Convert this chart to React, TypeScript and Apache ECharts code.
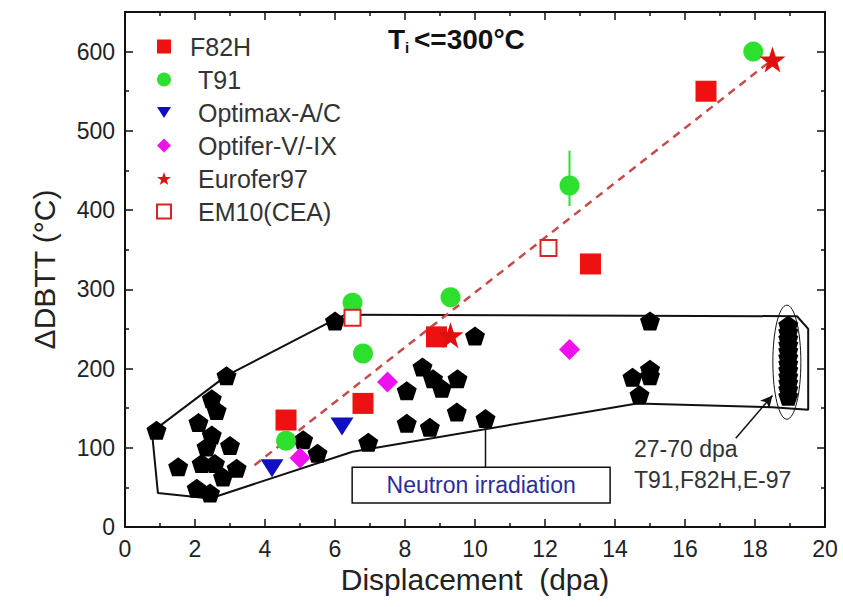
import React, { useEffect, useRef } from "react";
import * as echarts from "echarts";

// ---- data (dpa, ΔDBTT °C) ----
const f82h = [[4.6, 135], [6.8, 156], [8.9, 240], [13.3, 332], [16.6, 550]];
const t91 = [[4.6, 109], [6.5, 283], [6.8, 219], [9.3, 290], [12.7, 431], [17.95, 600]];
const t91ErrorBar = [[12.7, 405], [12.7, 475]];
const optimax = [[4.2, 74], [6.2, 127]];
const optifer = [[5.0, 87], [7.5, 183], [12.7, 224]];
const eurofer97 = [[9.3, 242], [18.5, 590]];
const em10 = [[6.5, 264], [12.1, 352]];
const trendLine = [[3.7, 78], [18.5, 590]];
const neutronLow = [
  [0.9, 122], [1.52, 76], [2.9, 191], [2.48, 162], [2.62, 147], [2.1, 132], [2.48, 116],
  [3.0, 103], [2.33, 101], [2.19, 80], [2.57, 80], [3.19, 74], [2.8, 63], [2.05, 49], [2.43, 43],
  [5.09, 110], [5.5, 93], [6.0, 260], [6.95, 107], [8.05, 172], [8.5, 202], [8.8, 187],
  [9.05, 175], [9.5, 187], [10.0, 241], [9.48, 145], [8.05, 131], [8.71, 126], [10.3, 137],
  [15.0, 260], [15.0, 199], [14.5, 189], [14.7, 167], [15.0, 191],
];
const neutronHighDose = [
  [18.95, 165], [18.95, 174], [18.95, 182], [18.95, 190], [18.95, 198], [18.95, 206],
  [18.95, 214], [18.95, 222], [18.95, 230], [18.95, 238], [18.95, 246], [18.95, 255],
];
const envelope = [
  [0.77, 120], [2.9, 191], [6.0, 262], [6.3, 268], [19.2, 266], [19.52, 250], [19.52, 148],
  [18.5, 151], [14.63, 156], [6.5, 95], [2.43, 36], [0.94, 43], [0.77, 120],
];
const highDoseOutline = [[18.91, 208, 0.8, 144]];
const neutronConnector = [[10.3, 137], [10.3, 75.5]];
const neutronBox = [[6.49, 75.5], [13.86, 30.2]];
const doseArrow = [[17.45, 112], [18.5, 166]];
const legendNames = ["F82H", "T91", "Optimax-A/C", "Optifer-V/-IX", "Eurofer97", "EM10(CEA)"];

const FONT = "'Liberation Sans', Arial, Helvetica, sans-serif";
const PENTAGON = "path://M50,0 L97.6,34.5 L79.4,90.5 L20.6,90.5 L2.4,34.5 Z";
const STAR = "path://M50,0 L61.8,35.1 L98.1,35.1 L68.8,56.8 L79.4,91 L50,70 L20.6,91 L31.2,56.8 L1.9,35.1 L38.2,35.1 Z";
const TRI_DOWN = "path://M0,0 L100,0 L50,80 Z";

export default function App() {
  const ref = useRef<HTMLDivElement>(null);
  useEffect(() => {
    if (!ref.current) return;
    const chart = echarts.init(ref.current, null, { renderer: "svg" });
    const axisCommon = {
      axisLine: { show: true, onZero: false, lineStyle: { color: "#111", width: 2 } },
      axisTick: { show: true, inside: true, length: 8, lineStyle: { color: "#111", width: 1.5 } },
      minorTick: { show: true, splitNumber: 2, length: 4, lineStyle: { color: "#111", width: 1.5 } },
      splitLine: { show: false },
    };
    const option: any = {
      animation: false,
      backgroundColor: "#fff",
      textStyle: { fontFamily: FONT },
      grid: { left: 125, right: 18, top: 12, bottom: 80 },
      legend: {
        data: legendNames,
        orient: "vertical",
        left: 156,
        top: 34,
        padding: 0,
        itemGap: 8,
        itemWidth: 14,
        itemHeight: 14,
        selectedMode: false,
        formatter: (n: string) => (n === "F82H" ? "{a|" + n + "}" : "{b|" + n + "}"),
        textStyle: {
          fontSize: 25,
          lineHeight: 25,
          color: "#333",
          fontFamily: FONT,
          rich: {
            a: { fontSize: 25, color: "#333", padding: [0, 0, 0, 14], fontFamily: FONT },
            b: { fontSize: 25, color: "#333", padding: [0, 0, 0, 22], fontFamily: FONT },
          },
        },
      },
      xAxis: [
        {
          type: "value", min: 0, max: 20, interval: 2, position: "bottom",
          ...axisCommon,
          axisLabel: { fontSize: 23, color: "#222", margin: 10, fontFamily: FONT },
          name: "Displacement  (dpa)", nameLocation: "middle", nameGap: 35,
          nameTextStyle: { fontSize: 30, color: "#222", fontFamily: FONT },
        },
        {
          type: "value", min: 0, max: 20, interval: 2, position: "top",
          ...axisCommon, axisLabel: { show: false },
        },
      ],
      yAxis: [
        {
          type: "value", min: 0, max: 650, interval: 100, position: "left",
          ...axisCommon,
          axisLabel: {
            fontSize: 23, color: "#222", margin: 10, fontFamily: FONT,
            formatter: (v: number) => (v % 100 === 0 ? String(v) : ""),
          },
          name: "ΔDBTT (°C)", nameLocation: "middle", nameGap: 66, nameRotate: 90,
          nameTextStyle: { fontSize: 30, color: "#222", fontFamily: FONT },
        },
        {
          type: "value", min: 0, max: 650, interval: 100, position: "right",
          ...axisCommon, axisLabel: { show: false },
        },
      ],
      graphic: [
        { type: "text", left: 388, top: 25, style: { text: "T", fontSize: 28, fontWeight: "bold", fill: "#111", fontFamily: FONT } },
        { type: "text", left: 405, top: 40, style: { text: "i", fontSize: 15, fontWeight: "bold", fill: "#111", fontFamily: FONT } },
        { type: "text", left: 414, top: 25, style: { text: "<=300°C", fontSize: 28, fontWeight: "bold", fill: "#111", fontFamily: FONT } },
        { type: "text", left: 634, top: 437, style: { text: "27-70 dpa", fontSize: 23, fill: "#333", fontFamily: FONT } },
        { type: "text", left: 634, top: 468, style: { text: "T91,F82H,E-97", fontSize: 23, fill: "#333", fontFamily: FONT } },
      ],
      series: [
        {
          name: "envelope", type: "line", data: envelope, symbol: "none", silent: true, z: 2,
          lineStyle: { color: "#111", width: 2 },
          markArea: {
            silent: true,
            itemStyle: { color: "#fff", borderColor: "#111", borderWidth: 1.5, opacity: 1 },
            label: { show: true, position: "inside", color: "#2d2d9a", fontSize: 23, fontFamily: FONT },
            data: [[{ coord: neutronBox[0], name: "Neutron irradiation" }, { coord: neutronBox[1] }]],
          },
          markLine: {
            silent: true, symbol: ["none", "arrow"], symbolSize: [9, 12],
            lineStyle: { color: "#111", width: 1.5, type: "solid" },
            label: { show: false },
            data: [[{ coord: doseArrow[0] }, { coord: doseArrow[1] }]],
          },
        },
        {
          name: "connector", type: "line", data: neutronConnector, symbol: "none", silent: true, z: 2,
          lineStyle: { color: "#111", width: 1.5 },
        },
        {
          name: "outline", type: "custom", silent: true, z: 3, data: highDoseOutline,
          renderItem: (_p: any, api: any) => {
            const c = api.coord([api.value(0), api.value(1)]);
            const s = api.size([api.value(2), api.value(3)]);
            return {
              type: "ellipse",
              shape: { cx: c[0], cy: c[1], rx: s[0] / 2, ry: s[1] / 2 },
              style: { fill: "none", stroke: "#111", lineWidth: 1 },
            };
          },
        },
        {
          name: "neutron", type: "scatter", data: neutronLow, symbol: PENTAGON, symbolSize: [20, 19],
          itemStyle: { color: "#000", opacity: 1 }, z: 4,
        },
        {
          name: "neutronHigh", type: "scatter", data: neutronHighDose, symbol: PENTAGON, symbolSize: [20, 19],
          itemStyle: { color: "#000", opacity: 1 }, z: 4,
        },
        {
          name: "trend", type: "line", data: trendLine, symbol: "none", silent: true, z: 5,
          lineStyle: { color: "#c84a4a", width: 2.5, type: [8, 6] },
        },
        {
          name: "t91err", type: "line", data: t91ErrorBar, symbol: "none", silent: true, z: 5,
          lineStyle: { color: "#2ee02e", width: 2 },
        },
        {
          name: "F82H", type: "scatter", data: f82h, symbol: "rect", symbolSize: 21,
          itemStyle: { color: "#ee1111", opacity: 1 }, z: 6,
        },
        {
          name: "T91", type: "scatter", data: t91, symbol: "circle", symbolSize: 20,
          itemStyle: { color: "#2ee02e", opacity: 1 }, z: 6,
        },
        {
          name: "Optimax-A/C", type: "scatter", data: optimax, symbol: TRI_DOWN,
          symbolSize: [23, 18], itemStyle: { color: "#1010c0", opacity: 1 }, z: 6,
        },
        {
          name: "Optifer-V/-IX", type: "scatter", data: optifer, symbol: "diamond", symbolSize: 21,
          itemStyle: { color: "#ee11ee", opacity: 1 }, z: 6,
        },
        {
          name: "Eurofer97", type: "scatter", data: eurofer97, symbol: STAR, symbolSize: 26,
          itemStyle: { color: "#e01010", opacity: 1 }, z: 7,
        },
        {
          name: "EM10(CEA)", type: "scatter", data: em10, symbol: "emptyRect", symbolSize: 16,
          itemStyle: { color: "#dd2222", borderColor: "#dd2222", borderWidth: 2, opacity: 1 }, z: 7,
        },
      ],
    };
    chart.setOption(option);
    return () => chart.dispose();
  }, []);
  return (
    <div
      ref={ref}
      style={{ position: "absolute", left: 0, top: 0, width: 843, height: 607 }}
    />
  );
}
